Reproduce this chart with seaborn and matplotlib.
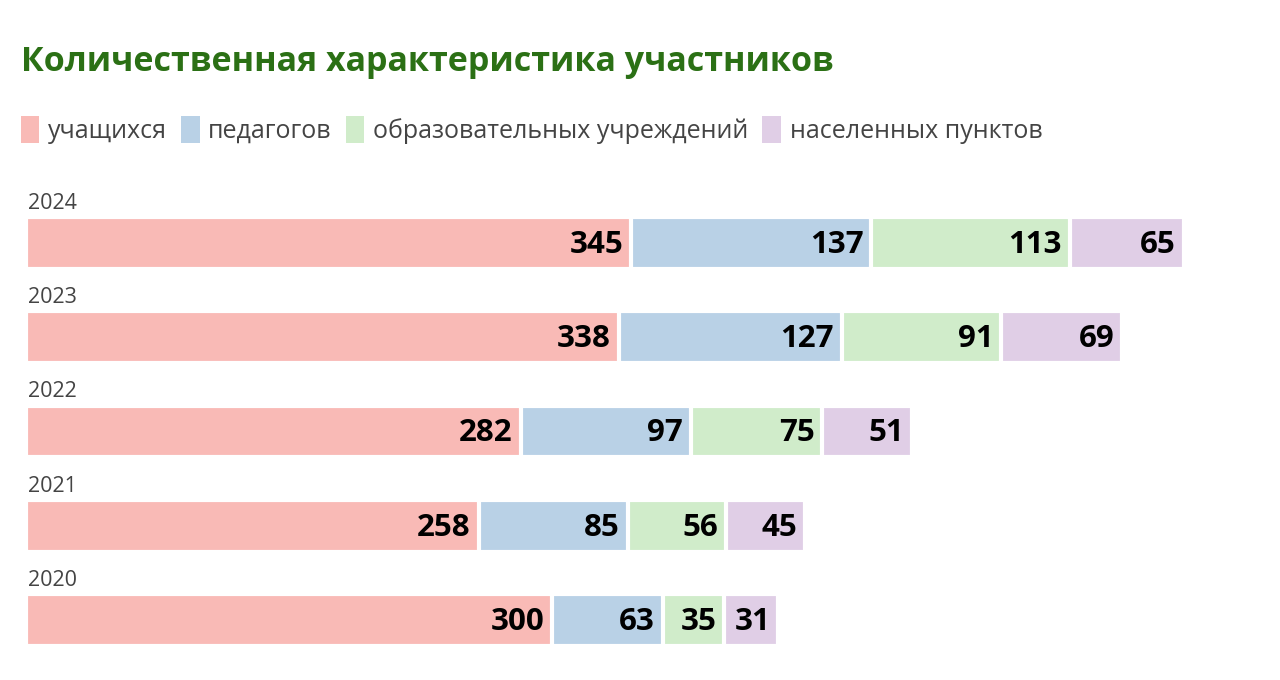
import matplotlib
matplotlib.use("Agg")
import matplotlib.pyplot as plt
from matplotlib.patches import Patch
import seaborn as sns
import pandas as pd

# data
years = ['2024', '2023', '2022', '2021', '2020']
students = [345, 338, 282, 258, 300]
teachers = [137, 127, 97, 85, 63]
schools = [113, 91, 75, 56, 35]
towns = [65, 69, 51, 45, 31]
series_names = ['учащихся', 'педагогов', 'образовательных учреждений', 'населенных пунктов']
colors = ['#f9bab6', '#b9d1e6', '#d0ecca', '#e0cee6']

sns.set_theme(style='white')
plt.rcParams['font.family'] = ['Open Sans', 'DejaVu Sans']

df = pd.DataFrame({'year': years, series_names[0]: students, series_names[1]: teachers,
                   series_names[2]: schools, series_names[3]: towns})
cum = df[series_names].cumsum(axis=1)

fig = plt.figure(figsize=(12.8, 6.8), dpi=100)
ax = fig.add_axes([26 / 1280, 1 - 667 / 680, 1224 / 1280, 471 / 680])

# stacked bars: draw cumulative totals from the widest down
for i in range(len(series_names) - 1, -1, -1):
    sns.barplot(x=cum[series_names[i]], y=df['year'], order=years, orient='h',
                color=colors[i], edgecolor='white', linewidth=3, width=0.55,
                saturation=1, ax=ax)

# value labels at the right end of each segment
for i in range(len(series_names)):
    for j, yr in enumerate(years):
        ax.text(cum[series_names[i]][j] - 4.5, j + 0.02, str(df[series_names[i]][j]),
                ha='right', va='center', fontsize=22.5, fontweight='bold', color='black')

# year labels above each bar
for j, yr in enumerate(years):
    ax.text(1.0, j - 0.42, yr, ha='left', va='center', fontsize=15.5, color='#444444')

ax.set_xlim(0, 1224 / 1.754)
ax.set_ylim(4.5, -0.5)
ax.axis('off')

fig.text(21 / 1280, 1 - 62 / 680, 'Количественная характеристика участников',
         fontsize=24.5, fontweight='bold', color='#2b7015', va='center', ha='left')

handles = [Patch(facecolor=c, edgecolor='none') for c in colors]
fig.legend(handles, series_names, loc='center left', bbox_to_anchor=(-2 / 1280, 1 - 130 / 680),
           ncol=4, frameon=False, fontsize=18, handlelength=0.75, handleheight=1.3,
           handletextpad=0.35, columnspacing=0.55, labelcolor='#444444')

fig.savefig('out.png', dpi=100, facecolor='white')
